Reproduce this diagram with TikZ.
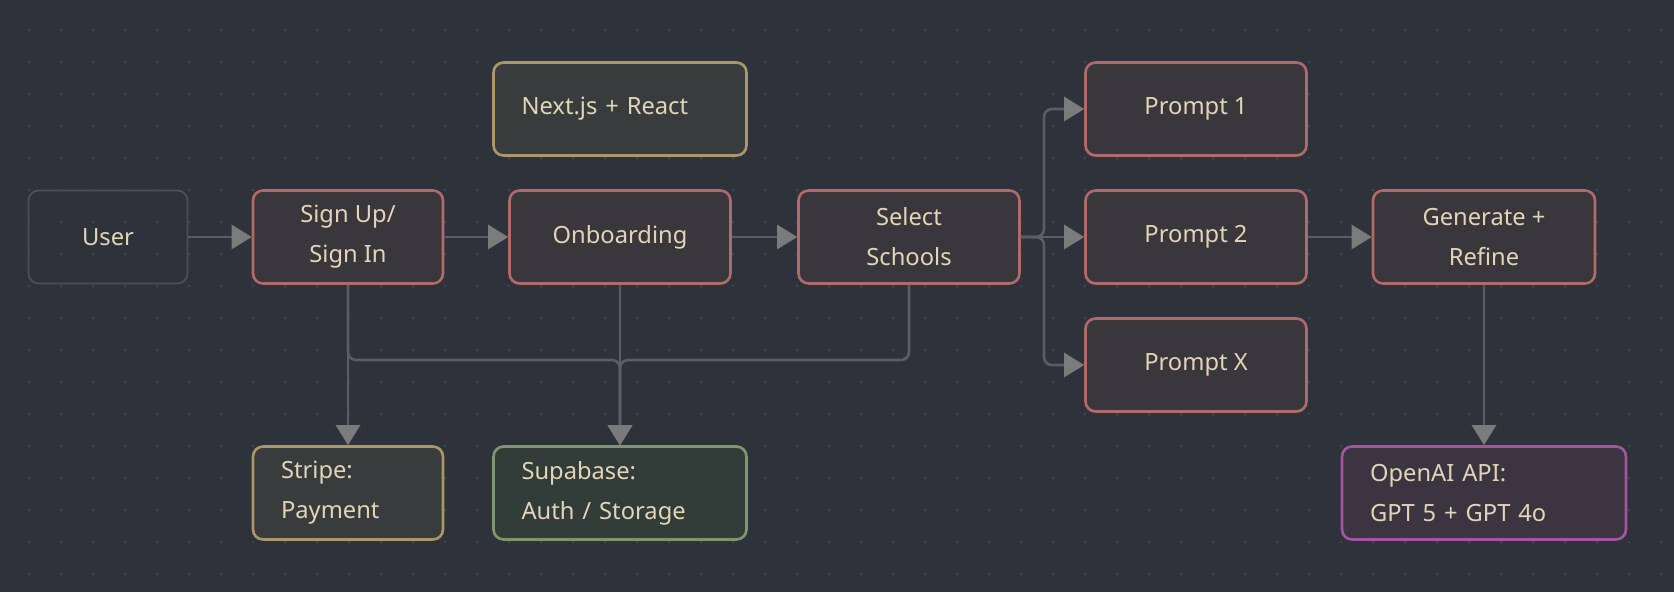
\documentclass[tikz,border=0pt]{standalone}
\usepackage{fontspec}
\setmainfont{Noto Sans}
\usepackage{tikz}
\usetikzlibrary{arrows.meta}
\definecolor{MyBackground}{RGB}{46,50,58}
\definecolor{MyDot}{RGB}{72,77,86}
\definecolor{MyText}{RGB}{226,213,183}
\definecolor{MyWire}{RGB}{88,93,102}
\definecolor{MyArrow}{RGB}{123,123,123}
\definecolor{MyRedLine}{RGB}{176,106,106}
\definecolor{MyRedFill}{RGB}{58,55,60}
\definecolor{MyGoldLine}{RGB}{170,150,105}
\definecolor{MyGoldFill}{RGB}{57,60,60}
\definecolor{MyGreenLine}{RGB}{128,150,110}
\definecolor{MyGreenFill}{RGB}{50,60,56}
\definecolor{MyPurpleLine}{RGB}{165,85,160}
\definecolor{MyPurpleFill}{RGB}{58,53,64}
\definecolor{MyGreyLine}{RGB}{75,80,88}

\begin{document}
\begin{tikzpicture}[x=0.02cm, y=-0.02cm,
    box/.style={draw, rounded corners=0.2cm, line width=1.5pt, minimum height=1.86cm,
      inner sep=0pt, align=center, text=MyText, font=\fontsize{13.5}{22.7}\selectfont},
    stepbox/.style={box, draw=MyRedLine, fill=MyRedFill, minimum width=#1},
    toolbox/.style={box, align=left, inner xsep=0.56cm, text width=#1},
    link/.style={draw=MyWire, line width=1.5pt, rounded corners=0.16cm,
      -{Triangle[length=0.4cm, width=0.48cm, color=MyArrow]}}]
    \fill[MyBackground] (0,0) rectangle (1674,592);
    \useasboundingbox (0,0) rectangle (1674,592);
    \foreach \i in {0,...,51}
      \foreach \j in {0,...,17}
        \fill[MyDot] (29+32*\i, 30+32*\j) circle (0.022cm);

    \node[box, draw=MyGreyLine, line width=1pt, minimum width=3.18cm] (user) at (108,237) {User};
    \node[stepbox=3.8cm] (signup) at (348,237) {Sign Up/\\Sign In};
    \node[stepbox=4.42cm] (onboard) at (620,237) {Onboarding};
    \node[stepbox=4.42cm] (schools) at (909,237) {Select\\Schools};
    \node[stepbox=4.42cm] (pOne) at (1196,109) {Prompt 1};
    \node[stepbox=4.42cm] (pTwo) at (1196,237) {Prompt 2};
    \node[stepbox=4.42cm] (pX) at (1196,365) {Prompt X};
    \node[stepbox=4.44cm] (gen) at (1484,237) {Generate +\\Refine};

    \node[toolbox=3.94cm, draw=MyGoldLine, fill=MyGoldFill] (nextjs) at (620,109) {Next.js + React};
    \node[toolbox=2.68cm, draw=MyGoldLine, fill=MyGoldFill] (stripe) at (348,493) {Stripe:\\Payment};
    \node[toolbox=3.94cm, draw=MyGreenLine, fill=MyGreenFill] (supa) at (620,493) {Supabase:\\Auth / Storage};
    \node[toolbox=4.56cm, draw=MyPurpleLine, fill=MyPurpleFill] (openai) at (1484,493) {OpenAI API:\\GPT 5 + GPT 4o};

    \coordinate (busmid) at (620,360);
    \coordinate (fork) at (1044,237);

    \draw[link] (user) -- (signup);
    \draw[link] (signup) -- (onboard);
    \draw[link] (onboard) -- (schools);
    \draw[link] (schools.east) -- (fork) |- (pOne.west);
    \draw[link] (schools) -- (pTwo);
    \draw[link] (schools.east) -- (fork) |- (pX.west);
    \draw[link] (pTwo) -- (gen);
    \draw[link] (gen) -- (openai);
    \draw[link] (signup) -- (stripe);
    \draw[link] (signup.south) |- (busmid) -- (supa.north);
    \draw[link] (schools.south) |- (busmid) -- (supa.north);
    \draw[link] (onboard) -- (supa);
  \end{tikzpicture}
\end{document}
